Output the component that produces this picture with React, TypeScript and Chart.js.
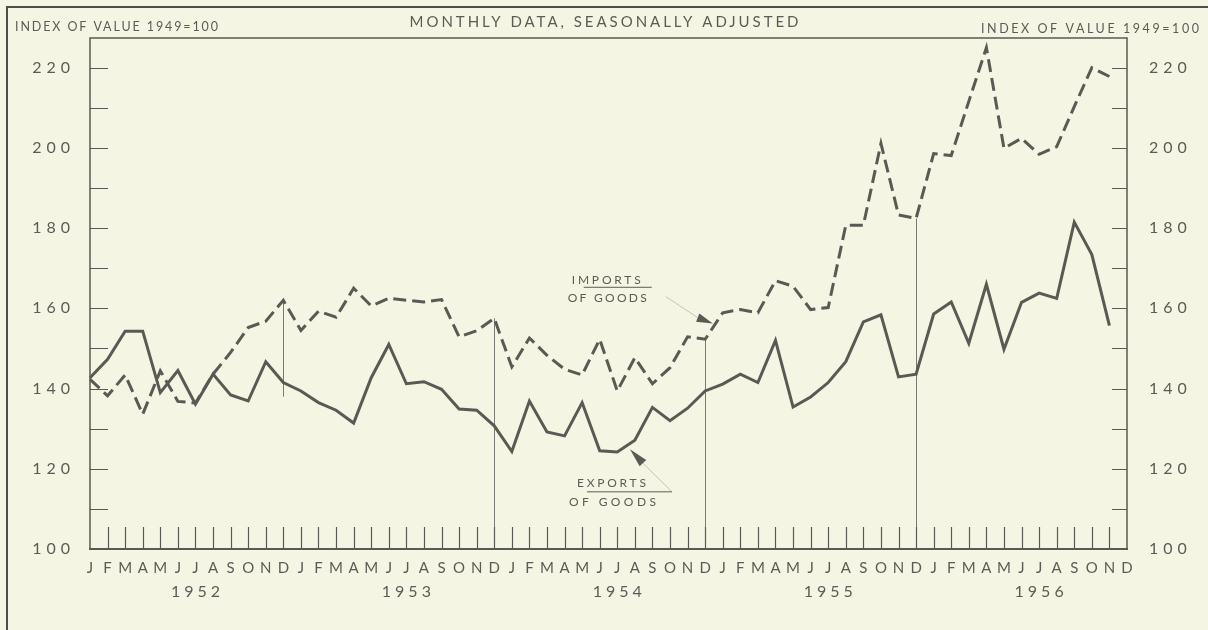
import React, { useEffect, useRef } from "react";
import { Chart, registerables } from "chart.js";

Chart.register(...registerables);

// ---------------- data ----------------
const MONTH_LETTERS = ["J", "F", "M", "A", "M", "J", "J", "A", "S", "O", "N", "D"];
const YEARS = ["1952", "1953", "1954", "1955", "1956"];
const MONTH_LABELS = YEARS.flatMap(() => MONTH_LETTERS);

// Index of value, 1949 = 100, monthly, seasonally adjusted (Jan 1952 .. Nov 1956)
const IMPORTS = [
  142.3, 138.2, 143.4, 133.6, 144.4, 136.8, 136.4, 143.6, 149.0, 155.2, 156.8, 162.0,
  154.5, 159.3, 157.8, 165.0, 160.6, 162.5, 162.0, 161.6, 162.2, 152.9, 154.4, 157.5,
  145.4, 152.6, 148.3, 144.8, 143.4, 152.3, 139.4, 147.7, 141.2, 145.2, 152.9, 152.3,
  158.9, 159.7, 158.9, 166.9, 165.5, 159.7, 160.2, 180.7, 180.7, 201.1, 183.3, 182.4,
  198.6, 198.1, 211.6, 225.0, 199.9, 202.4, 198.4, 200.3, 210.3, 220.0, 217.8,
];
const EXPORTS = [
  142.7, 147.3, 154.3, 154.3, 139.0, 144.5, 136.1, 143.6, 138.4, 136.9, 146.7, 141.5,
  139.4, 136.5, 134.6, 131.4, 142.7, 151.0, 141.2, 141.7, 139.8, 134.9, 134.6, 130.7,
  124.3, 136.9, 129.2, 128.2, 136.5, 124.5, 124.2, 127.1, 135.3, 132.0, 135.1, 139.4,
  141.1, 143.6, 141.5, 152.0, 135.4, 137.9, 141.5, 146.7, 156.6, 158.4, 142.9, 143.6,
  158.6, 161.6, 151.3, 166.0, 149.8, 161.5, 163.8, 162.5, 181.5, 173.4, 155.7,
];

const Y_MIN = 100;
const Y_MAX = 227.4;
const Y_STEP = 10;
const Y_LABEL_STEP = 20;
const DECEMBER_INDICES = [11, 23, 35, 47];
const YEAR_LABEL_MONTH = 6; // year label centred under month index 6 of each year

const TITLE = "MONTHLY DATA, SEASONALLY ADJUSTED";
const LEFT_UNIT = "INDEX OF VALUE 1949=100";
const RIGHT_UNIT = "INDEX OF VALUE 1949=100";
const IMPORTS_LABEL = ["IMPORTS", "OF GOODS"];
const EXPORTS_LABEL = ["EXPORTS", "OF GOODS"];
// annotation arrow tips in data coordinates [month index, value]
const IMPORTS_ARROW_AT = [35.43, 156.2];
const EXPORTS_ARROW_AT = [30.72, 124.9];

// ---------------- styles ----------------
const BG = "#f4f5e2";
const INK = "#5a5a54";
const TEXT = "#5c5c56";
const FONT = 'Lato, "Open Sans", "DejaVu Sans", sans-serif';
const W = 1208;
const H = 630;

function drawFitted(
  ctx: CanvasRenderingContext2D,
  text: string,
  left: number,
  right: number,
  baseline: number,
  size: number,
  weight = "normal"
) {
  ctx.font = `${weight} ${size}px ${FONT}`;
  (ctx as any).letterSpacing = "0px";
  const natural = ctx.measureText(text).width;
  const n = Array.from(text).length;
  const ls = n > 1 ? (right - left - natural) / (n - 1) : 0;
  (ctx as any).letterSpacing = `${ls}px`;
  ctx.textAlign = "left";
  ctx.textBaseline = "alphabetic";
  ctx.fillStyle = TEXT;
  ctx.fillText(text, left, baseline);
  (ctx as any).letterSpacing = "0px";
}

function arrowHead(
  ctx: CanvasRenderingContext2D,
  tip: { x: number; y: number },
  base: { x: number; y: number },
  halfW: number
) {
  const dx = base.x - tip.x;
  const dy = base.y - tip.y;
  const len = Math.hypot(dx, dy) || 1;
  const nx = -dy / len;
  const ny = dx / len;
  ctx.beginPath();
  ctx.moveTo(tip.x, tip.y);
  ctx.lineTo(base.x + nx * halfW, base.y + ny * halfW);
  ctx.lineTo(base.x - nx * halfW, base.y - ny * halfW);
  ctx.closePath();
  ctx.fill();
}

const decoPlugin = {
  id: "deco",
  beforeDraw(chart: any) {
    const { ctx } = chart;
    ctx.save();
    ctx.fillStyle = BG;
    ctx.fillRect(0, 0, chart.width, chart.height);
    ctx.restore();
    ctx.letterSpacing = "5px"; // wide spacing for the tick labels
  },
  beforeDatasetsDraw(chart: any) {
    const { ctx, chartArea: a, scales } = chart;
    const xs = scales.x;
    const ys = scales.y;
    ctx.save();
    ctx.letterSpacing = "0px";
    // December reference lines
    ctx.strokeStyle = "rgba(80,80,75,0.75)";
    ctx.lineWidth = 1;
    DECEMBER_INDICES.forEach((i, k) => {
      const x = Math.round(xs.getPixelForValue(i)) + 0.5;
      const yTop = ys.getPixelForValue(IMPORTS[i]);
      const yBot = k === 0 ? ys.getPixelForValue(EXPORTS[i] - 3.5) : a.bottom;
      ctx.beginPath();
      ctx.moveTo(x, yTop);
      ctx.lineTo(x, yBot);
      ctx.stroke();
    });
    // inner tick marks on the value axes
    ctx.strokeStyle = INK;
    ctx.lineWidth = 1.2;
    for (let v = Y_MIN + Y_STEP; v <= Y_MAX; v += Y_STEP) {
      const y = Math.round(ys.getPixelForValue(v)) + 0.5;
      ctx.beginPath();
      ctx.moveTo(a.left, y);
      ctx.lineTo(a.left + 18, y);
      ctx.moveTo(a.right, y);
      ctx.lineTo(a.right - 15, y);
      ctx.stroke();
    }
    // month tick marks
    for (let i = 1; i < MONTH_LABELS.length - 1; i++) {
      const x = Math.round(xs.getPixelForValue(i)) + 0.5;
      ctx.beginPath();
      ctx.moveTo(x, a.bottom);
      ctx.lineTo(x, a.bottom - 22);
      ctx.stroke();
    }
    ctx.restore();
  },
  afterDraw(chart: any) {
    const { ctx, chartArea: a, scales } = chart;
    const xs = scales.x;
    const ys = scales.y;
    ctx.save();
    ctx.letterSpacing = "0px";

    // plot frame
    ctx.strokeStyle = INK;
    ctx.lineWidth = 1.5;
    ctx.beginPath();
    ctx.moveTo(a.left, a.bottom);
    ctx.lineTo(a.left, a.top);
    ctx.lineTo(a.right, a.top);
    ctx.lineTo(a.right, a.bottom);
    ctx.stroke();
    ctx.lineWidth = 2.2;
    ctx.beginPath();
    ctx.moveTo(a.left - 1, a.bottom);
    ctx.lineTo(a.right + 1, a.bottom);
    ctx.stroke();

    // outer border (left and top edges)
    ctx.lineWidth = 2;
    ctx.strokeStyle = "#4e4e48";
    ctx.beginPath();
    ctx.moveTo(7, H);
    ctx.lineTo(7, 7);
    ctx.lineTo(W, 7);
    ctx.stroke();

    // year labels
    ctx.fillStyle = TEXT;
    ctx.font = `16px ${FONT}`;
    ctx.textAlign = "center";
    ctx.textBaseline = "middle";
    ctx.letterSpacing = "4px";
    YEARS.forEach((yr, k) => {
      const x = xs.getPixelForValue(k * 12 + YEAR_LABEL_MONTH) + 2;
      ctx.fillText(yr, x, 592);
    });
    ctx.letterSpacing = "0px";

    // titles
    drawFitted(ctx, LEFT_UNIT, 15, 218, 30.5, 12.5);
    drawFitted(ctx, TITLE, 409.5, 798.5, 26.5, 15);
    drawFitted(ctx, RIGHT_UNIT, 981, 1199, 33, 12.5);

    // imports annotation
    const ti = {
      x: xs.getPixelForValue(IMPORTS_ARROW_AT[0]),
      y: ys.getPixelForValue(IMPORTS_ARROW_AT[1]),
    };
    drawFitted(ctx, IMPORTS_LABEL[0], ti.x - 141, ti.x - 72, ti.y - 40, 12);
    drawFitted(ctx, IMPORTS_LABEL[1], ti.x - 145, ti.x - 66, ti.y - 22, 12);
    ctx.strokeStyle = TEXT;
    ctx.lineWidth = 1;
    ctx.beginPath();
    ctx.moveTo(ti.x - 129, ti.y - 36.3);
    ctx.lineTo(ti.x - 61, ti.y - 36.3);
    ctx.stroke();
    const bi = { x: ti.x - 15, y: ti.y - 6 };
    ctx.strokeStyle = "rgba(90,90,85,0.3)";
    ctx.beginPath();
    ctx.moveTo(ti.x - 47, ti.y - 27);
    ctx.lineTo(bi.x, bi.y);
    ctx.stroke();
    ctx.fillStyle = INK;
    arrowHead(ctx, ti, bi, 4.5);

    // exports annotation
    const te = {
      x: xs.getPixelForValue(EXPORTS_ARROW_AT[0]),
      y: ys.getPixelForValue(EXPORTS_ARROW_AT[1]),
    };
    drawFitted(ctx, EXPORTS_LABEL[0], te.x - 53, te.x + 16, te.y + 38, 12);
    drawFitted(ctx, EXPORTS_LABEL[1], te.x - 61, te.x + 26, te.y + 57, 12);
    ctx.strokeStyle = TEXT;
    ctx.lineWidth = 1;
    ctx.beginPath();
    ctx.moveTo(te.x - 43, te.y + 42.7);
    ctx.lineTo(te.x + 42, te.y + 42.7);
    ctx.stroke();
    const be = { x: te.x + 13, y: te.y + 14 };
    ctx.strokeStyle = "rgba(90,90,85,0.3)";
    ctx.beginPath();
    ctx.moveTo(be.x, be.y);
    ctx.lineTo(te.x + 42, te.y + 42.7);
    ctx.stroke();
    ctx.fillStyle = INK;
    arrowHead(ctx, te, be, 4.5);

    ctx.restore();
  },
};

export default function App() {
  const canvasRef = useRef<HTMLCanvasElement | null>(null);

  useEffect(() => {
    document.body.style.margin = "0";
    document.body.style.background = BG;
    const canvas = canvasRef.current;
    if (!canvas) return;

    const tickFont = { family: FONT, size: 16 };
    const yTicks = {
      stepSize: Y_STEP,
      includeBounds: false,
      autoSkip: false,
      color: TEXT,
      font: tickFont,
      callback: (v: any) => (Number(v) % Y_LABEL_STEP === 0 ? String(v) : ""),
    };

    const chart = new Chart(canvas, {
      type: "line",
      data: {
        labels: MONTH_LABELS,
        datasets: [
          {
            label: "Imports of goods",
            data: IMPORTS,
            borderColor: INK,
            borderWidth: 3,
            borderDash: [13, 6],
            pointRadius: 0,
            tension: 0,
            fill: false,
            yAxisID: "y",
          },
          {
            label: "Exports of goods",
            data: EXPORTS,
            borderColor: INK,
            borderWidth: 3,
            pointRadius: 0,
            tension: 0,
            fill: false,
            yAxisID: "y",
          },
        ],
      },
      options: {
        animation: false,
        responsive: false,
        devicePixelRatio: 1,
        layout: { padding: { top: 38, left: 0, right: 0, bottom: 0 } },
        plugins: {
          legend: { display: false },
          tooltip: { enabled: false },
          title: { display: false },
        },
        scales: {
          x: {
            type: "category",
            offset: false,
            grid: { display: false, drawTicks: false },
            border: { display: false },
            ticks: {
              autoSkip: false,
              maxRotation: 0,
              minRotation: 0,
              padding: 10,
              labelOffset: 2.5,
              color: TEXT,
              font: { family: FONT, size: 15 },
            },
            afterFit: (s: any) => {
              s.height = 81;
            },
          },
          y: {
            position: "left",
            min: Y_MIN,
            max: Y_MAX,
            grid: { display: false, drawTicks: false },
            border: { display: false },
            ticks: { ...yTicks, padding: 15 },
            afterFit: (s: any) => {
              s.width = 90;
            },
          },
          y2: {
            position: "right",
            min: Y_MIN,
            max: Y_MAX,
            grid: { display: false, drawTicks: false },
            border: { display: false },
            ticks: { ...yTicks, padding: 22 },
            afterFit: (s: any) => {
              s.width = 81;
            },
          },
        },
      } as any,
      plugins: [decoPlugin as any],
    });

    return () => chart.destroy();
  }, []);

  return (
    <div
      style={{
        position: "absolute",
        left: 0,
        top: 0,
        width: W,
        height: H,
        background: BG,
      }}
    >
      <canvas ref={canvasRef} width={W} height={H} style={{ display: "block", width: W, height: H }} />
    </div>
  );
}
